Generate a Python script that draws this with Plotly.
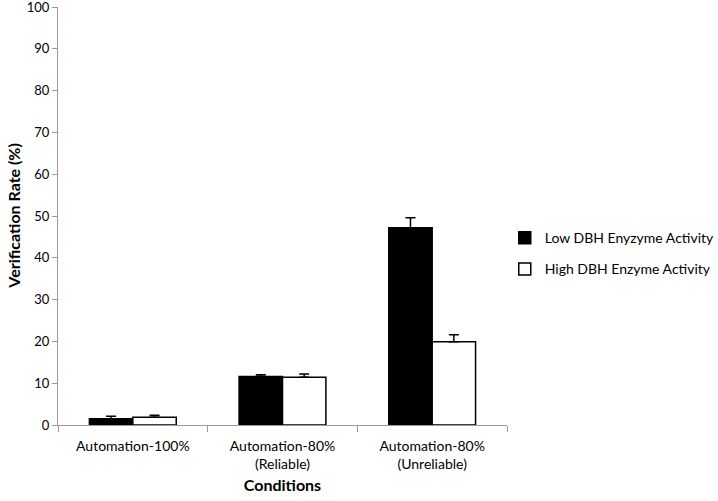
import plotly.graph_objects as go

conditions = ["Automation-100%", "Automation-80%<br>(Reliable)", "Automation-80%<br>(Unreliable)"]
low_dbh = [1.5, 11.6, 47.2]
low_err = [0.6, 0.4, 2.4]
high_dbh = [1.85, 11.4, 19.9]
high_err = [0.5, 0.8, 1.7]

font_name = "Lato, Open Sans, sans-serif"

fig = go.Figure()
fig.add_trace(go.Bar(
    x=conditions, y=low_dbh, name="Low DBH Enyzyme Activity", legendgroup="low",
    marker=dict(color="black", line=dict(color="black", width=1.5)),
    error_y=dict(type="data", array=low_err, symmetric=False, arrayminus=[0, 0, 0],
                 color="black", thickness=1.5, width=5),
))
fig.add_trace(go.Bar(
    x=conditions, y=high_dbh, name="High DBH Enzyme Activity", legendgroup="high",
    marker=dict(color="white", line=dict(color="black", width=1.5)),
    error_y=dict(type="data", array=high_err, symmetric=False, arrayminus=[0, 0, 0],
                 color="black", thickness=1.5, width=5),
))

# y title placed by hand, axis title standoff is ignored without automargin
fig.add_annotation(
    text="<b>Verification Rate (%)</b>", textangle=-90,
    xref="paper", yref="paper", x=-0.101, y=0.5, xanchor="center", yanchor="middle",
    showarrow=False, font=dict(size=16),
)

fig.update_layout(
    width=718, height=501,
    margin=dict(l=58, r=211, t=7, b=76, autoexpand=False),
    plot_bgcolor="white", paper_bgcolor="white",
    barmode="group", bargap=0.42, bargroupgap=0,
    font=dict(family=font_name, size=14, color="black"),
    legend=dict(x=0.995, y=0.41, yanchor="middle", xanchor="left",
                font=dict(size=14), tracegroupgap=10, bgcolor="rgba(0,0,0,0)"),
    xaxis=dict(
        automargin=False, ticklabelstandoff=8,
        showline=True, linecolor="#9a9a9a", linewidth=1,
        ticks="outside", tickson="boundaries", ticklen=6, tickcolor="#9a9a9a",
        title=dict(text="<b>Conditions</b>", font=dict(size=16), standoff=8),
        tickfont=dict(size=14),
    ),
    yaxis=dict(
        automargin=False, ticklabeloverflow="allow",
        range=[0, 100], dtick=10, showgrid=False, zeroline=False,
        showline=True, linecolor="#9a9a9a", linewidth=1,
        ticks="outside", ticklen=5, tickcolor="#9a9a9a",
        tickfont=dict(size=13),
    ),
)

fig.write_html("out.html", config={"displayModeBar": False},
               post_script="document.body.style.margin='0';")
